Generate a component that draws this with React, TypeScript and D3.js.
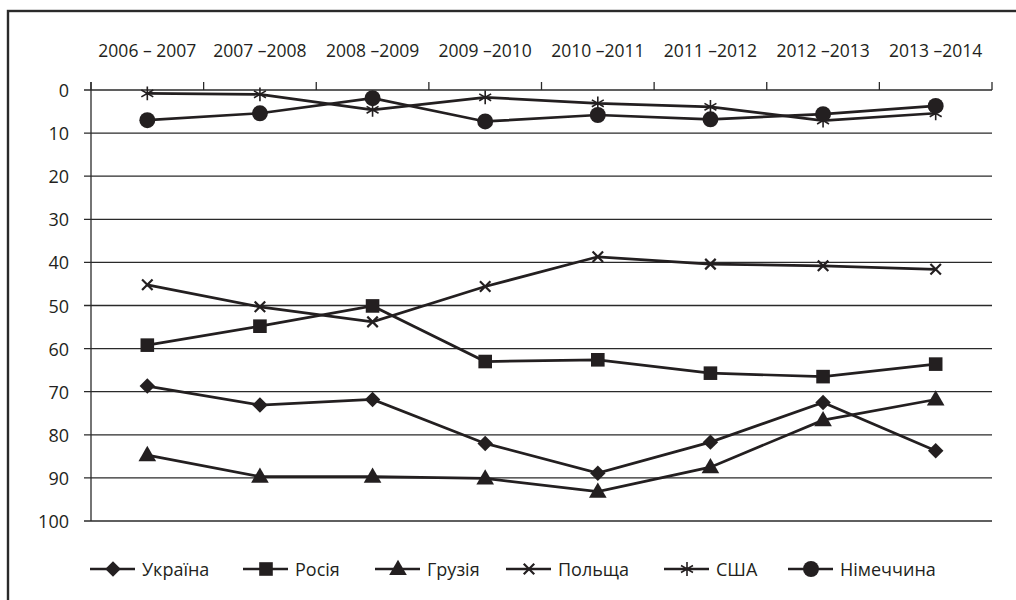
import { useMemo } from "react";
import * as d3 from "d3";

const years = [
  "2006 – 2007",
  "2007 –2008",
  "2008 –2009",
  "2009 –2010",
  "2010 –2011",
  "2011 –2012",
  "2012 –2013",
  "2013 –2014",
];

const ukraine = [68.7, 73.1, 71.8, 82.0, 88.9, 81.7, 72.5, 83.7];
const russia = [59.2, 54.8, 50.1, 63.0, 62.6, 65.7, 66.5, 63.6];
const georgia = [84.7, 89.7, 89.7, 90.1, 93.2, 87.5, 76.6, 71.8];
const poland = [45.2, 50.3, 53.8, 45.6, 38.7, 40.4, 40.8, 41.6];
const usa = [0.8, 1.0, 4.6, 1.7, 3.1, 3.9, 7.1, 5.4];
const germany = [7.0, 5.4, 1.9, 7.3, 5.8, 6.8, 5.6, 3.7];

const yTicks = [0, 10, 20, 30, 40, 50, 60, 70, 80, 90, 100];

type Marker = "diamond" | "square" | "triangle" | "times" | "asterisk" | "circle";

const series: { name: string; values: number[]; marker: Marker }[] = [
  { name: "Україна", values: ukraine, marker: "diamond" },
  { name: "Росія", values: russia, marker: "square" },
  { name: "Грузія", values: georgia, marker: "triangle" },
  { name: "Польща", values: poland, marker: "times" },
  { name: "США", values: usa, marker: "asterisk" },
  { name: "Німеччина", values: germany, marker: "circle" },
];

const INK = "#231f20";
const FONT = "'Open Sans', 'Noto Sans', sans-serif";

// stroke-only symbols drawn by hand so they look like the original
const timesType = {
  draw(ctx: d3.Path, size: number) {
    const r = Math.sqrt(size) / 2;
    ctx.moveTo(-r, -r);
    ctx.lineTo(r, r);
    ctx.moveTo(r, -r);
    ctx.lineTo(-r, r);
  },
};

const asteriskType = {
  draw(ctx: d3.Path, size: number) {
    const r = Math.sqrt(size) / 2;
    ctx.moveTo(0, -r);
    ctx.lineTo(0, r);
    const a = r * Math.cos(Math.PI / 6);
    const b = r * Math.sin(Math.PI / 6);
    ctx.moveTo(-a, -b);
    ctx.lineTo(a, b);
    ctx.moveTo(a, -b);
    ctx.lineTo(-a, b);
  },
};

const MarkerShape = ({ kind, x, y }: { kind: Marker; x: number; y: number }) => {
  if (kind === "diamond") {
    const p = d3.symbol().type(d3.symbolSquare).size(120)();
    return <path d={p || ""} transform={`translate(${x},${y}) rotate(45)`} fill={INK} />;
  }
  if (kind === "square") {
    const p = d3.symbol().type(d3.symbolSquare).size(185)();
    return <path d={p || ""} transform={`translate(${x},${y})`} fill={INK} />;
  }
  if (kind === "triangle") {
    const p = d3.symbol().type(d3.symbolTriangle).size(135)();
    return <path d={p || ""} transform={`translate(${x},${y + 1})`} fill={INK} />;
  }
  if (kind === "circle") {
    const p = d3.symbol().type(d3.symbolCircle).size(200)();
    return <path d={p || ""} transform={`translate(${x},${y})`} fill={INK} />;
  }
  if (kind === "times") {
    const p = d3.symbol().type(timesType as any).size(110)();
    return <path d={p || ""} transform={`translate(${x},${y})`} fill="none" stroke={INK} strokeWidth={2.2} />;
  }
  const p = d3.symbol().type(asteriskType as any).size(190)();
  return <path d={p || ""} transform={`translate(${x},${y})`} fill="none" stroke={INK} strokeWidth={1.6} />;
};

const App = () => {
  const width = 1016;
  const height = 600;
  const margin = { top: 90, right: 24, bottom: 79, left: 91 };

  const xScale = useMemo(
    () => d3.scaleBand().domain(years).range([margin.left, width - margin.right]),
    []
  );
  const yScale = useMemo(
    () => d3.scaleLinear().domain([0, 100]).range([margin.top, height - margin.bottom]),
    []
  );

  const cx = (i: number) => (xScale(years[i]) as number) + xScale.bandwidth() / 2;
  const line = d3
    .line<number>()
    .x((_, i) => cx(i))
    .y((d) => yScale(d));

  const x0 = margin.left;
  const x1 = width - margin.right;

  const legendX = [90, 243, 375, 506, 664, 788];
  const legendY = 569;

  return (
    <svg
      width={width}
      height={height}
      style={{ position: "absolute", left: 0, top: 0, background: "#fff" }}
    >
      <rect x={8} y={11} width={width + 10} height={height + 10} fill="none" stroke="#2a2a2a" strokeWidth={2.4} />

      {/* gridlines + y ticks */}
      {yTicks.map((t) => (
        <g key={t}>
          <line x1={x0 - 7} x2={x1} y1={yScale(t)} y2={yScale(t)} stroke="#2a2a2a" strokeWidth={1.3} />
          <text
            x={69}
            y={yScale(t)}
            textAnchor="end"
            dominantBaseline="central"
            fontFamily={FONT}
            fontSize={18}
            fill={INK}
          >
            {t}
          </text>
        </g>
      ))}

      {/* y axis */}
      <line x1={x0} x2={x0} y1={yScale(0) - 8} y2={yScale(100)} stroke="#2a2a2a" strokeWidth={1.3} />

      {/* top category ticks */}
      {years.map((y) => (
        <line
          key={y}
          x1={xScale(y) as number}
          x2={xScale(y) as number}
          y1={yScale(0) - 8}
          y2={yScale(0)}
          stroke="#2a2a2a"
          strokeWidth={1.3}
        />
      ))}
      <line x1={x1} x2={x1} y1={yScale(0) - 8} y2={yScale(0)} stroke="#2a2a2a" strokeWidth={1.3} />

      {years.map((y, i) => (
        <text
          key={y}
          x={cx(i)}
          y={50}
          textAnchor="middle"
          dominantBaseline="central"
          fontFamily={FONT}
          fontSize={17.5}
          fill={INK}
        >
          {y}
        </text>
      ))}

      {/* series */}
      {series.map((s) => (
        <g key={s.name}>
          <path d={line(s.values) || ""} fill="none" stroke={INK} strokeWidth={2.7} />
          {s.values.map((v, i) => (
            <MarkerShape key={i} kind={s.marker} x={cx(i)} y={yScale(v)} />
          ))}
        </g>
      ))}

      {/* legend */}
      {series.map((s, i) => (
        <g key={s.name} transform={`translate(${legendX[i]},${legendY})`}>
          <line x1={0} x2={45} y1={0} y2={0} stroke={INK} strokeWidth={2.7} />
          <MarkerShape kind={s.marker} x={23} y={0} />
          <text
            x={52}
            y={0}
            dominantBaseline="central"
            fontFamily={FONT}
            fontSize={18}
            fill={INK}
          >
            {s.name}
          </text>
        </g>
      ))}
    </svg>
  );
};

export default App;
